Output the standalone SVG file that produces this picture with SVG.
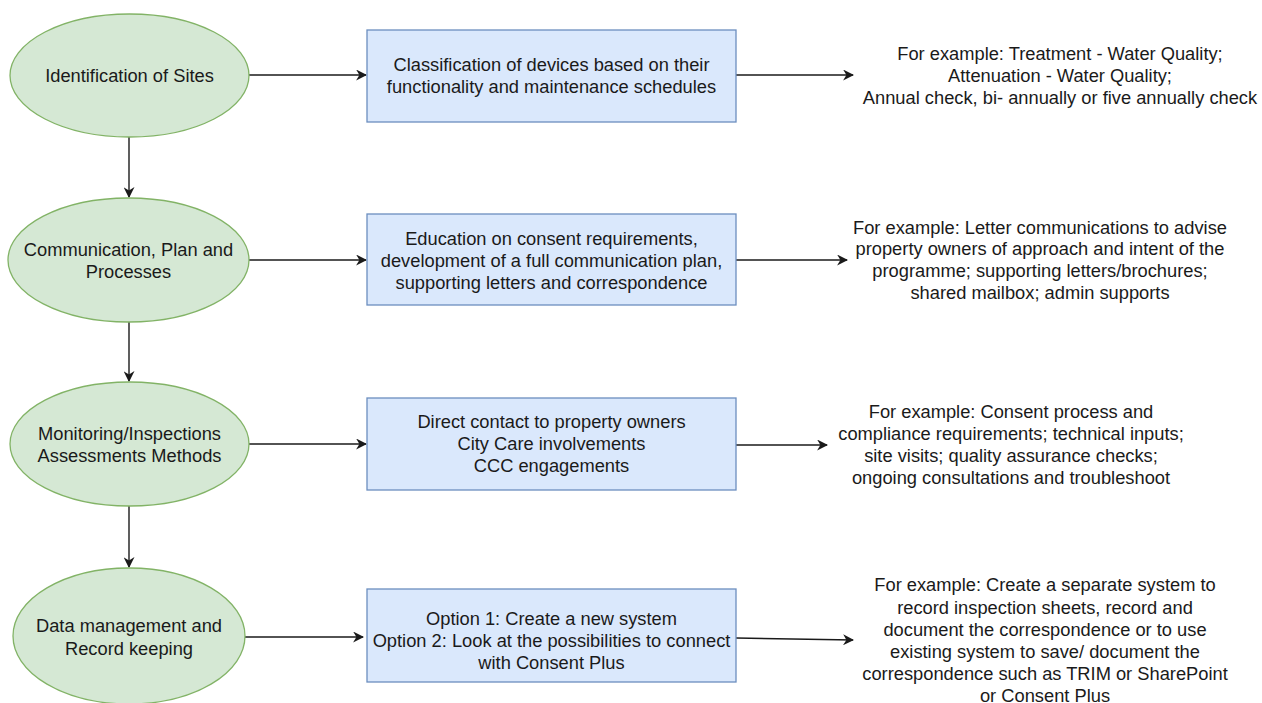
<svg xmlns="http://www.w3.org/2000/svg" width="1262" height="703" viewBox="0 0 1262 703">
<style>
.ell{fill:#d5e8d4;stroke:#82b366;stroke-width:1.3}
.box{fill:#dae8fc;stroke:#6c8ebf;stroke-width:1.3}
text{font-family:"Liberation Sans",Arial,sans-serif;font-size:18.3px;fill:#1a1a1a;text-anchor:middle;dominant-baseline:central}
.c{fill:none;stroke:#1a1a1a;stroke-width:1.4}
</style>
<defs>
<marker id="ah" viewBox="0 0 10 10" refX="9" refY="5" markerWidth="11" markerHeight="11" markerUnits="userSpaceOnUse" orient="auto">
<path d="M0,0 L10,5 L0,10 L3,5 Z" fill="#1a1a1a"/>
</marker>
</defs>
<rect width="1262" height="703" fill="#ffffff"/>
<g id="connectors">
<path class="c" d="M129,137 V197" marker-end="url(#ah)"/>
<path class="c" d="M129,322 V381" marker-end="url(#ah)"/>
<path class="c" d="M129,506 V567" marker-end="url(#ah)"/>
<path class="c" d="M249,75 H366" marker-end="url(#ah)"/>
<path class="c" d="M736,75 H853" marker-end="url(#ah)"/>
<path class="c" d="M249,260 H366" marker-end="url(#ah)"/>
<path class="c" d="M736,260 H847" marker-end="url(#ah)"/>
<path class="c" d="M249,444 H366" marker-end="url(#ah)"/>
<path class="c" d="M736,445 H827" marker-end="url(#ah)"/>
<path class="c" d="M245,637 H363" marker-end="url(#ah)"/>
<path class="c" d="M736,638 L853,640" marker-end="url(#ah)"/>
</g>
<g id="n1"><ellipse class="ell" cx="129.5" cy="75.5" rx="119.5" ry="61.5"/><text x="129.5" y="75">Identification of Sites</text></g>
<g id="n2"><ellipse class="ell" cx="128.5" cy="260" rx="120.5" ry="62"/><text x="128.5" y="249">Communication, Plan and</text><text x="128.5" y="271">Processes</text></g>
<g id="n3"><ellipse class="ell" cx="129.5" cy="444" rx="119.5" ry="62"/><text x="129.5" y="433">Monitoring/Inspections</text><text x="129.5" y="455">Assessments Methods</text></g>
<g id="n4"><ellipse class="ell" cx="129" cy="636" rx="116" ry="68"/><text x="129" y="625">Data management and</text><text x="129" y="648">Record keeping</text></g>
<g id="b1"><rect class="box" x="367" y="30" width="369" height="92"/><text x="551.5" y="64">Classification of devices based on their</text><text x="551.5" y="86">functionality and maintenance schedules</text></g>
<g id="b2"><rect class="box" x="367" y="214" width="369" height="91"/><text x="551.5" y="238">Education on consent requirements,</text><text x="551.5" y="260">development of a full communication plan,</text><text x="551.5" y="282">supporting letters and correspondence</text></g>
<g id="b3"><rect class="box" x="367" y="398" width="369" height="92"/><text x="551.5" y="421">Direct contact to property owners</text><text x="551.5" y="443">City Care involvements</text><text x="551.5" y="465">CCC engagements</text></g>
<g id="b4"><rect class="box" x="367" y="589" width="369" height="93"/><text x="551.5" y="618">Option 1: Create a new system</text><text x="551.5" y="640">Option 2: Look at the possibilities to connect</text><text x="551.5" y="662">with Consent Plus</text></g>
<g id="t1"><text x="1060" y="53">For example: Treatment - Water Quality;</text><text x="1060" y="75">Attenuation - Water Quality;</text><text x="1060" y="97">Annual check, bi- annually or five annually check</text></g>
<g id="t2"><text x="1040" y="227">For example: Letter communications to advise</text><text x="1040" y="248">property owners of approach and intent of the</text><text x="1040" y="270">programme; supporting letters/brochures;</text><text x="1040" y="292">shared mailbox; admin supports</text></g>
<g id="t3"><text x="1011" y="411">For example: Consent process and</text><text x="1011" y="433">compliance requirements; technical inputs;</text><text x="1011" y="455">site visits; quality assurance checks;</text><text x="1011" y="477">ongoing consultations and troubleshoot</text></g>
<g id="t4"><text x="1045" y="584">For example: Create a separate system to</text><text x="1045" y="607">record inspection sheets, record and</text><text x="1045" y="629">document the correspondence or to use</text><text x="1045" y="651">existing system to save/ document the</text><text x="1045" y="673">correspondence such as TRIM or SharePoint</text><text x="1045" y="695">or Consent Plus</text></g>
</svg>
